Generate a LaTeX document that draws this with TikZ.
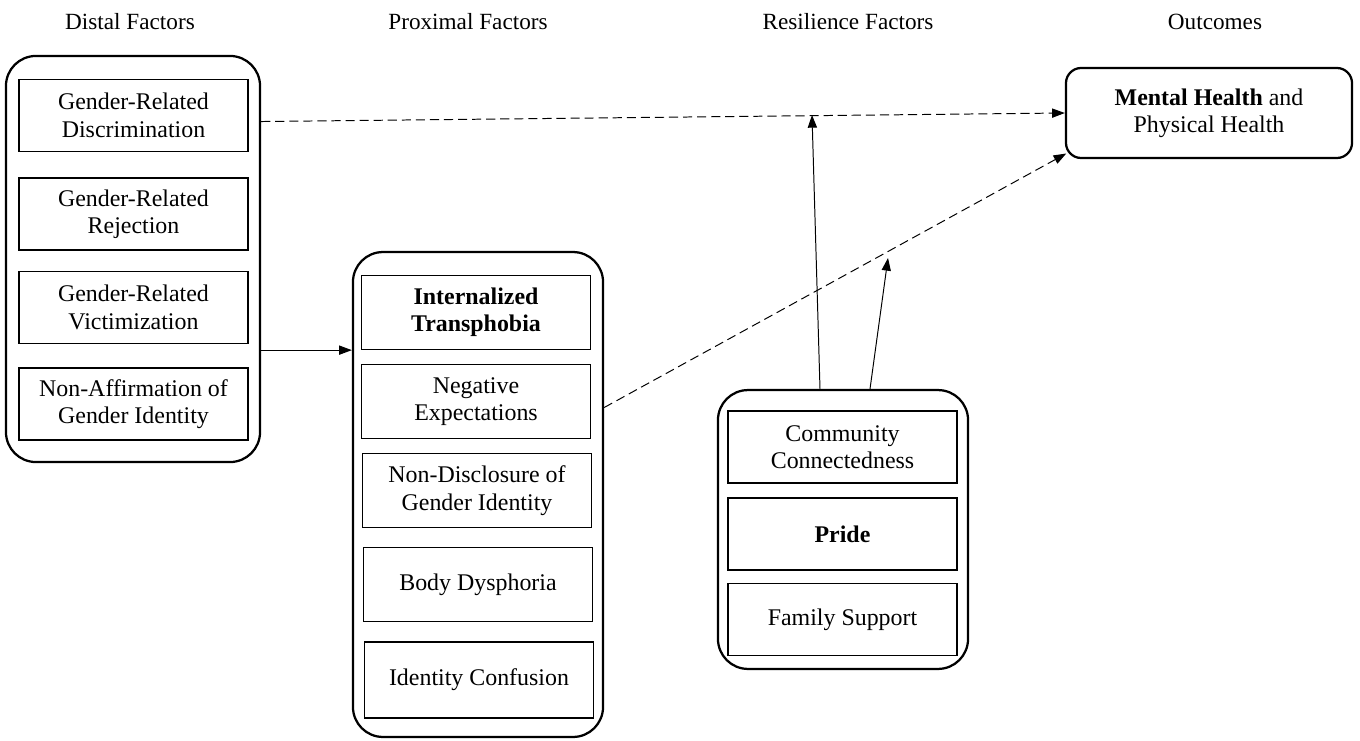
\documentclass[tikz,border=0pt]{standalone}
\usepackage{fontspec}
\setmainfont{Liberation Serif}
\usetikzlibrary{arrows.meta}
\tikzset{
	outerbox/.style={draw, line width=1.6pt, rounded corners=0.75cm, inner sep=0pt},
	itembox/.style={draw, line width=0.9pt, minimum width=5.72cm, minimum height=1.8cm, inner sep=2pt, align=center, font=\fontsize{17}{19.5}\selectfont},
	header/.style={font=\fontsize{16.5}{19}\selectfont},
	solidarrow/.style={line width=0.7pt, -{Triangle[length=9pt, width=6.5pt]}},
	dasharrow/.style={solidarrow, dash pattern=on 6.5pt off 3.5pt}
}
\begin{document}
\begin{tikzpicture}[x=0.025cm, y=-0.025cm]
			\useasboundingbox (0,0) rectangle (1360,741);
			\node [header] (hdist) at (130,22) {Distal Factors};
			\node [header] (hprox) at (468,22) {Proximal Factors};
			\node [header] (hresil) at (848,22) {Resilience Factors};
			\node [header] (hout) at (1215,22) {Outcomes};
			\node [outerbox, minimum width=6.35cm, minimum height=10.15cm] (distal) at (133,259) {};
			\node [itembox] (discr) at (133.5,115.5) {Gender-Related\\Discrimination};
			\node [itembox] (reject) at (133.5,214) {Gender-Related\\Rejection};
			\node [itembox] (victim) at (133.5,307.5) {Gender-Related\\Victimization};
			\node [itembox] (nonaff) at (133.5,404) {Non-Affirmation of\\Gender Identity};
			\node [outerbox, minimum width=6.25cm, minimum height=12.12cm] (proximal) at (478,494.5) {};
			\node [itembox, minimum height=1.85cm] (intern) at (476,312.5) {\textbf{Internalized}\\\textbf{Transphobia}};
			\node [itembox, minimum height=1.85cm] (negexp) at (476,401.5) {Negative\\Expectations};
			\node [itembox, minimum height=1.85cm] (nondisc) at (477,490.5) {Non-Disclosure of\\Gender Identity};
			\node [itembox, minimum height=1.85cm] (dysph) at (478,584.5) {Body Dysphoria};
			\node [itembox, minimum height=1.9cm] (confus) at (479,680) {Identity Confusion};
			\node [outerbox, minimum width=6.25cm, minimum height=6.97cm] (resil) at (843,529.5) {};
			\node [itembox] (commun) at (842.5,447) {Community\\Connectedness};
			\node [itembox] (pride) at (842.5,534) {\textbf{Pride}};
			\node [itembox] (family) at (842.5,619.5) {Family Support};
			\node [outerbox, rounded corners=0.38cm, minimum width=7.15cm, minimum height=2.25cm, align=center, font=\fontsize{17}{19.5}\selectfont] (outcome) at (1209,113) {\textbf{Mental Health} and\\Physical Health};
			\coordinate (m1) at (812,115);
			\coordinate (m2) at (888,258);
			\draw [dasharrow] (discr.-3 -| distal.east) -- (outcome.west);
			\draw [solidarrow] (intern.south -| distal.east) -- (intern.south -| proximal.west);
			\draw [dasharrow] (negexp.-3 -| proximal.east) -- ([xshift=1pt, yshift=4pt]outcome.south west);
			\draw [solidarrow] ([xshift=-0.575cm]resil.north) -- (m1);
			\draw [solidarrow] ([xshift=0.675cm]resil.north) -- (m2);
		\end{tikzpicture}
\end{document}
